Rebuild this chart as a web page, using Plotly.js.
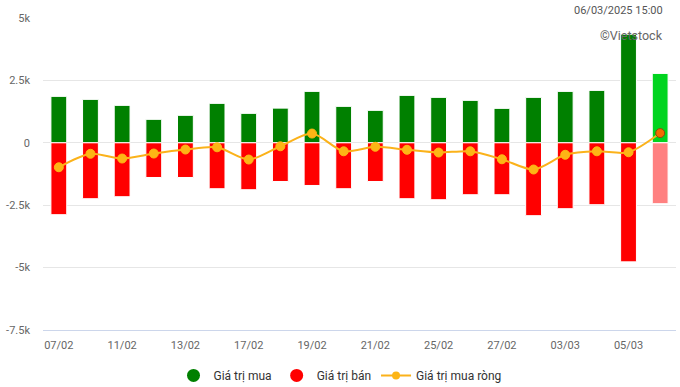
<!DOCTYPE html>
<html><head><meta charset="utf-8">
<script src="https://cdn.plot.ly/plotly-3.0.1.min.js"></script>
<style>html,body{margin:0;padding:0;background:#fff}#chart{width:680px;height:387px}</style>
</head><body><div id="chart"></div>
<script>
const dates = ["07/02","10/02","11/02","12/02","13/02","14/02","17/02","18/02","19/02","20/02","21/02","24/02","25/02","26/02","27/02","28/02","03/03","04/03","05/03","06/03"];
const buyValues = [1860,1740,1500,940,1100,1580,1180,1390,2060,1460,1300,1900,1820,1700,1380,1820,2060,2100,4350,2780];
const sellValues = [-2880,-2240,-2160,-1390,-1390,-1840,-1880,-1550,-1710,-1840,-1550,-2240,-2280,-2080,-2080,-2920,-2640,-2480,-4770,-2440];
const netValues = [-980,-440,-630,-430,-270,-180,-670,-140,370,-340,-160,-280,-390,-340,-660,-1070,-480,-340,-380,390];
const xTickLabels = ["07/02","11/02","13/02","17/02","19/02","21/02","25/02","27/02","03/03","05/03"];
const yTickVals = [-7500,-5000,-2500,0,2500,5000];
const yTickText = ["-7.5k","-5k","-2.5k","0","2.5k","5k"];

const n = dates.length;
const buyColors = dates.map((d,i)=> i===n-1 ? "#00d41f" : "#008000");
const sellColors = dates.map((d,i)=> i===n-1 ? "#ff8080" : "#ff0000");
const netColors = dates.map((d,i)=> i===n-1 ? "#f26b00" : "#fdb515");
const netLine = dates.map((d,i)=> i===n-1 ? "#8a4a10" : "#fdb515");

const data = [
  {type:"bar", x:dates, y:buyValues, marker:{color:buyColors, line:{color:"#fff",width:1}}, width:0.5, showlegend:false, hoverinfo:"y"},
  {type:"bar", x:dates, y:sellValues, marker:{color:sellColors, line:{color:"#fff",width:1}}, width:0.5, showlegend:false, hoverinfo:"y"},
  {type:"scatter", mode:"lines+markers", x:dates, y:netValues, line:{color:"#fbb21a", width:2, shape:"spline", smoothing:0.8},
   marker:{size:9, color:netColors, line:{color:netLine, width:1}}, showlegend:false},
  {type:"scatter", mode:"markers", x:[null], y:[null], name:"Giá trị mua", marker:{size:13, color:"#008000", symbol:"circle"}},
  {type:"scatter", mode:"markers", x:[null], y:[null], name:"Giá trị bán", marker:{size:13, color:"#ff0000", symbol:"circle"}},
  {type:"scatter", mode:"lines+markers", x:[null], y:[null], name:"Giá trị mua ròng", line:{color:"#fbb21a", width:2}, marker:{size:8, color:"#fdb515"}}
];

const layout = {
  width:680, height:387,
  margin:{l:43, r:4, t:18, b:57, autoexpand:false},
  paper_bgcolor:"#fff", plot_bgcolor:"#fff",
  font:{family:"Roboto, Arial, sans-serif", size:11, color:"#666"},
  barmode:"relative", bargap:0.5,
  xaxis:{type:"category", range:[-0.5, n-0.5], tickmode:"array", tickvals:xTickLabels, ticktext:xTickLabels,
    showgrid:false, showline:true, linecolor:"#ccd6eb", linewidth:1, ticks:"outside", ticklen:5, tickcolor:"rgba(0,0,0,0)", tickfont:{size:11,color:"#666"}, fixedrange:true},
  yaxis:{range:[-7500,5000], tickmode:"array", tickvals:yTickVals, ticktext:yTickText, gridcolor:"#e6e6e6", gridwidth:1,
    zeroline:true, zerolinecolor:"#e6e6e6", zerolinewidth:1, showline:false, ticks:"", ticklabelstandoff:12, tickfont:{size:11,color:"#666"}, fixedrange:true},
  showlegend:true,
  legend:{orientation:"h", xref:"container", yref:"container", x:0.5, xanchor:"center", y:0.03, yanchor:"middle", font:{size:12,color:"#333"}, itemsizing:"trace", traceorder:"normal"},
  annotations:[
    {xref:"paper", yref:"paper", x:1, y:1, xanchor:"right", yanchor:"bottom", yshift:-1, xshift:-11, text:"06/03/2025 15:00", showarrow:false, font:{size:11,color:"#555"}},
    {xref:"paper", yref:"paper", x:1, y:1, xanchor:"right", yanchor:"top", yshift:-8, xshift:-11, text:"©Vietstock", showarrow:false, font:{size:12.5,color:"#666"}}
  ]
};
Plotly.newPlot("chart", data, layout, {displayModeBar:false, staticPlot:true});
</script></body></html>
